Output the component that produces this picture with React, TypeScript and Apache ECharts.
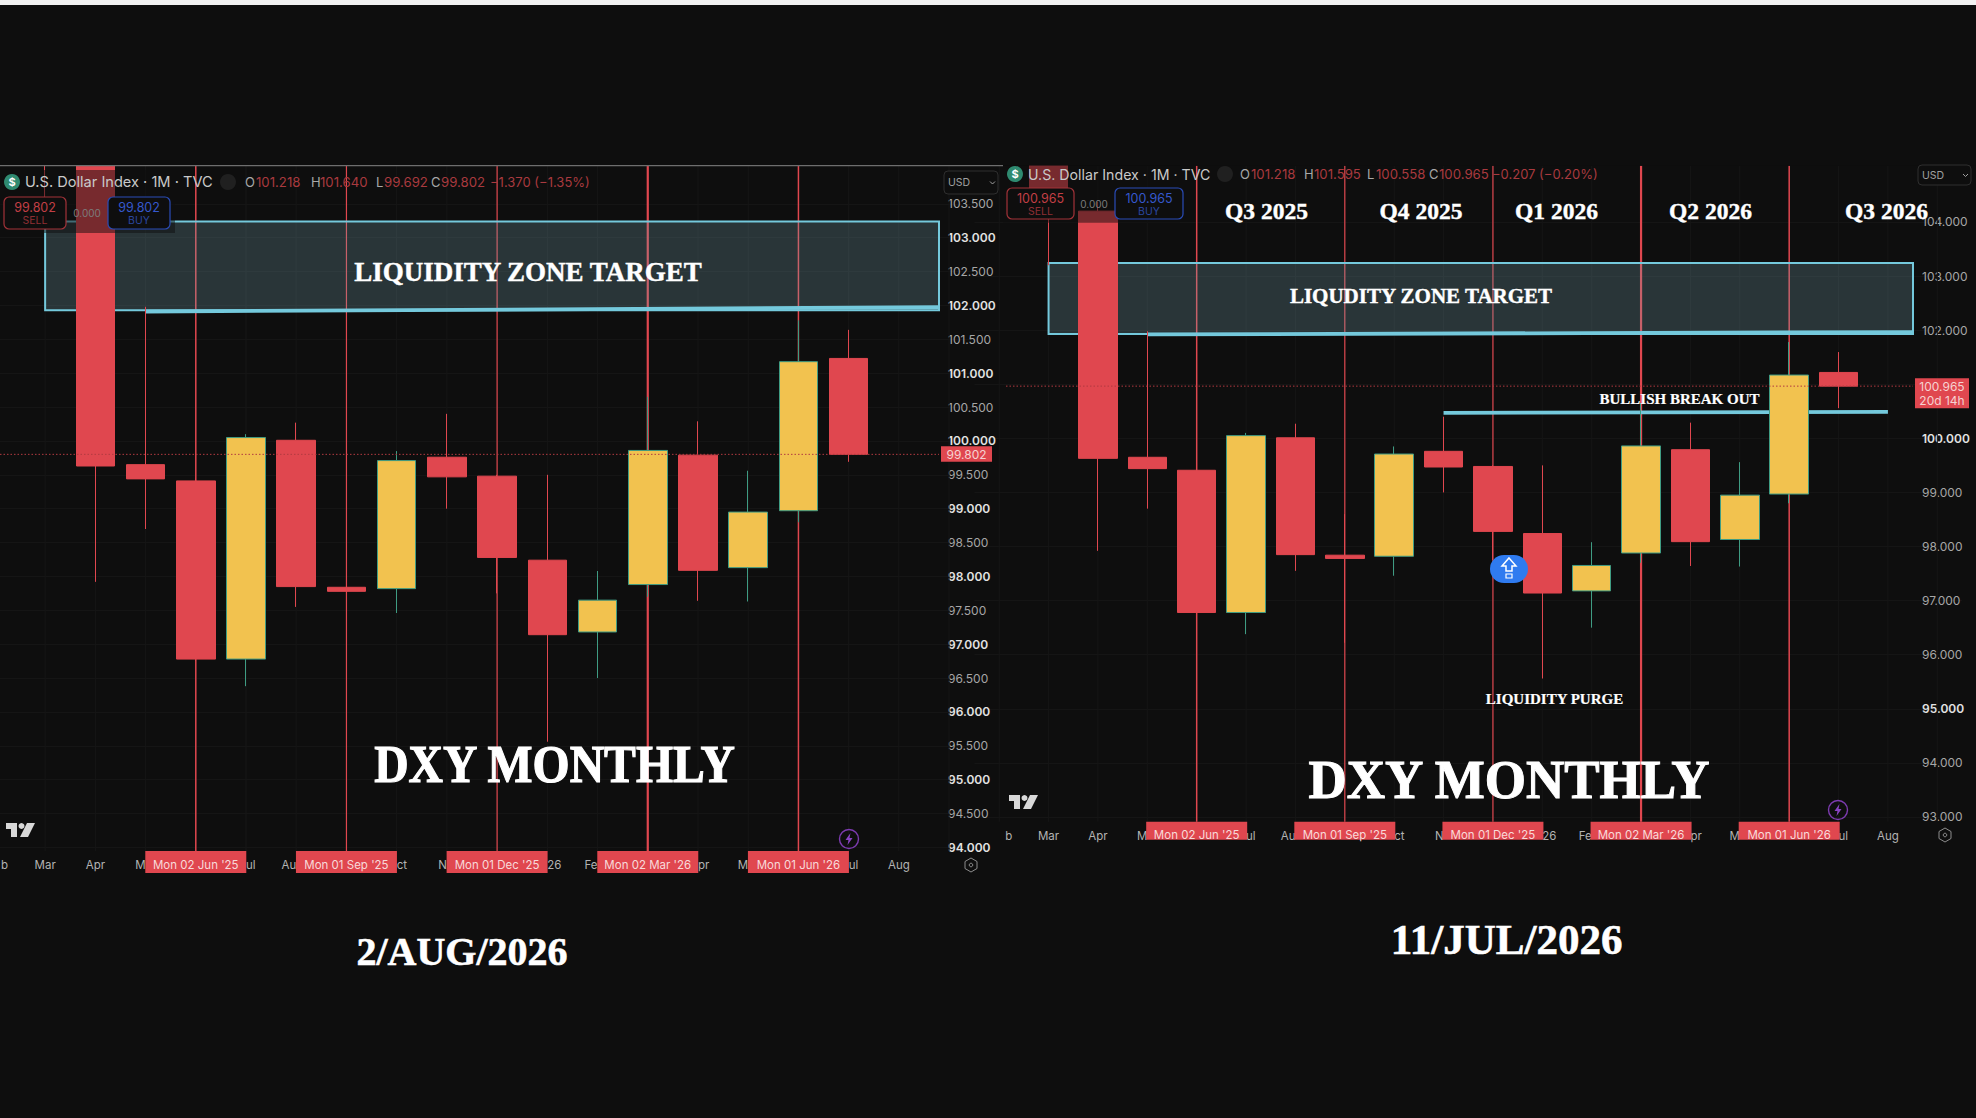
import React, { useEffect, useRef } from "react";
import * as echarts from "echarts";

// Month labels as far as the reference leaves them visible beside the red date boxes.
const leftMonths = ["b","Mar","Apr","M","","ul","Au","","ct","N","","26","Fe","","pr","M","","ul","Aug",""];
const rightMonths = ["b","Mar","Apr","M","","ul","Au","","ct","N","","26","Fe","","pr","M","","ul","Aug",""];
const monthAlign = ["left","center","center","right","center","left","right","center","left","right","center","left","right","center","left","right","center","left","center","center"];

// Monthly candles from Mar '25 to Jun '26: [open, close, low, high]
const sharedCandles = [
  [107.6, 104.2, 103.2, 107.7],
  [104.2, 99.63, 97.92, 104.37],
  [99.65, 99.44, 98.7, 101.98],
  [99.41, 96.78, 96.75, 99.45],
  [96.78, 100.05, 96.38, 100.1],
  [100.01, 97.85, 97.55, 100.27],
  [97.84, 97.78, 96.22, 98.6],
  [97.82, 99.71, 97.46, 99.85],
  [99.76, 99.47, 99.0, 100.4],
  [99.48, 98.28, 97.75, 99.5],
  [98.24, 97.14, 95.56, 99.5],
  [97.18, 97.65, 96.5, 98.08],
  [97.88, 99.86, 97.7, 100.65],
  [99.79, 98.09, 97.64, 100.29],
  [98.13, 98.95, 97.63, 99.56],
  [98.97, 101.17, 98.8, 101.78],
];
const leftJuly = [101.218, 99.802, 99.692, 101.64];
const rightJuly = [101.218, 100.965, 100.558, 101.595];

const leftTicks = [94,94.5,95,95.5,96,96.5,97,97.5,98,98.5,99,99.5,100,100.5,101,101.5,102,102.5,103,103.5];
const rightTicks = [93,94,95,96,97,98,99,100,101,102,103,104];

const markerMonths = [4, 7, 10, 13, 16];
const markerTexts = ["Mon 02 Jun '25", "Mon 01 Sep '25", "Mon 01 Dec '25", "Mon 02 Mar '26", "Mon 01 Jun '26"];
const markerWidths = [1.5, 1.2, 1.2, 2.2, 1.5];

const zone = [1, 103.24, 101.93];
const leftZoneLine = [[3, 101.91], [19, 101.975]];
const rightZoneLine = [[3, 101.92], [19, 101.965]];
const breakoutLine = [[9, 100.47], [18, 100.49]];

const leftNotes = ["LIQUIDITY ZONE TARGET", "DXY MONTHLY", "2/AUG/2026"];
const rightNotes = ["LIQUDITY ZONE TARGET", "BULLISH BREAK OUT", "LIQUIDITY PURGE", "DXY MONTHLY", "11/JUL/2026"];
const quarters = ["Q3 2025", "Q4 2025", "Q1 2026", "Q2 2026", "Q3 2026"];

const title = "U.S. Dollar Index · 1M · TVC";
const leftOhlc = ["101.218", "101.640", "99.692", "99.802", "−1.370 (−1.35%)"];
const rightOhlc = ["101.218", "101.595", "100.558", "100.965", "−0.207 (−0.20%)"];

const BG = "#0e0e0e";
const RED = "#e0474f";
const GOLD = "#f2c24f";
const TEAL = "#3f9c83";
const CYAN = "#74c9dc";
const SANS = "Inter, 'Noto Sans', sans-serif";
const SERIF = "'Liberation Serif', serif";
const Z = 100;

const candlesOf = (last: number[]) => ["-", ...sharedCandles, last, "-", "-"].map((c) => (c === "-" ? ["-", "-", "-", "-"] : c));

function pane(i: number, o: any) {
  const { left, top, width, height, min, max, ticks, major, months, last, edge, lines, priceValue, priceTexts, boxH, barW } = o;
  const grid = { left, top, width, height, outerBoundsMode: "none", containLabel: false };
  const xAxis = {
    type: "category", gridIndex: i, boundaryGap: true,
    data: months.map((m: string, k: number) => ({
      value: m,
      textStyle: k === 0 ? { align: monthAlign[k], padding: [0, 0, 0, 6] } : { align: monthAlign[k] },
    })),
    axisLine: { show: false }, axisTick: { show: false }, splitLine: { show: false },
    axisLabel: { interval: 0, color: "#b3b3b3", fontFamily: SANS, fontSize: 11.5, margin: o.xMargin, hideOverlap: false },
  };
  const yAxis = {
    type: "value", gridIndex: i, position: "right", offset: -edge, min, max, scale: true,
    axisLine: { show: false }, axisTick: { show: false, customValues: ticks },
    splitLine: { show: true, lineStyle: { color: "#151515", width: 1 } },
    axisLabel: {
      customValues: ticks, margin: 9,
      formatter: (v: number) => (v % major === 0 ? `{b|${v.toFixed(3)}}` : `{g|${v.toFixed(3)}}`),
      rich: {
        b: { color: "#e2e2e2", fontFamily: SANS, fontSize: 12, fontWeight: 600 },
        g: { color: "#a6a6a6", fontFamily: SANS, fontSize: 12 },
      },
    },
  };
  const base = { xAxisIndex: i, yAxisIndex: i, coordinateSystem: "cartesian2d", silent: true };
  const series: any[] = [
    {
      ...base, type: "custom", name: `months${i}`, z: 1, data: months.map((_: string, k: number) => [k, min]), encode: { x: 0, y: 1 },
      renderItem: (_p: any, api: any) => {
        const x = api.coord([api.value(0), min])[0];
        return { type: "line", shape: { x1: x, y1: top, x2: x, y2: top + height }, style: { stroke: "#161616", lineWidth: 1 } };
      },
    },
    {
      ...base, type: "custom", name: `markers${i}`, z: 2, data: markerMonths.map((m, k) => [m, min, k]), encode: { x: 0, y: 1 },
      renderItem: (_p: any, api: any) => {
        const x = api.coord([api.value(0), min])[0];
        return { type: "line", shape: { x1: x, y1: top, x2: x, y2: top + height }, style: { stroke: RED, lineWidth: markerWidths[api.value(2)] } };
      },
    },
    {
      ...base, type: "custom", name: `zone${i}`, z: 3, data: [zone], encode: { x: 0, y: [1, 2] },
      renderItem: (p: any, api: any) => {
        const a = api.coord([api.value(0), api.value(1)]);
        const b = api.coord([api.value(0), api.value(2)]);
        const r = p.coordSys.x + p.coordSys.width - edge;
        return { type: "rect", shape: { x: a[0], y: a[1], width: r - a[0], height: b[1] - a[1] }, style: { fill: "rgba(125,170,185,0.25)", stroke: CYAN, lineWidth: 2 } };
      },
    },
    ...lines.map((ln: number[][], k: number) => ({
      ...base, type: "custom", name: `line${i}_${k}`, z: 3, data: ln, encode: { x: 0, y: 1 },
      renderItem: (p: any, api: any) => {
        if (p.dataIndex !== 0) return null;
        const a = api.coord(ln[0]);
        const b = api.coord(ln[1]);
        const end = ln[1][0] === months.length - 1 ? p.coordSys.x + p.coordSys.width - edge : b[0];
        return { type: "line", shape: { x1: a[0], y1: a[1], x2: end, y2: b[1] }, style: { stroke: CYAN, lineWidth: 3.8 } };
      },
    })),
    {
      ...base, type: "candlestick", name: `DXY${i}`, z: 4, barWidth: barW, data: candlesOf(last),
      itemStyle: { color: GOLD, color0: RED, borderColor: TEAL, borderColor0: RED, borderWidth: 1 },
    },
    {
      ...base, type: "custom", name: `price${i}`, z: 5, data: [[0, priceValue]], encode: { x: 0, y: 1 },
      renderItem: (p: any, api: any) => {
        const y = api.coord([0, api.value(1)])[1];
        const r = p.coordSys.x + p.coordSys.width - edge;
        const h = priceTexts.length * 14.5 + 1;
        const tagW = o.tagW;
        return {
          type: "group",
          children: [
            { type: "line", shape: { x1: Math.max(p.coordSys.x, o.priceFrom), y1: y, x2: r, y2: y }, style: { stroke: "#b23a40", lineWidth: 1, lineDash: [1.5, 2] } },
            { type: "rect", shape: { x: r + 2, y: y - 8, width: tagW, height: h }, style: { fill: RED } },
            ...priceTexts.map((t: string, k: number) => ({
              type: "text", style: { text: t, x: r + 2 + tagW / 2, y: y + k * 14.5, align: "center", verticalAlign: "middle", fill: "#f6d2d2", fontFamily: SANS, fontSize: 12 },
            })),
          ],
        };
      },
    },
    {
      ...base, type: "custom", name: `labels${i}`, z: 6, data: markerMonths.map((m, k) => [m, min, k]), encode: { x: 0, y: 1 },
      renderItem: (_p: any, api: any) => {
        const x = api.coord([api.value(0), min])[0];
        const y = top + height;
        return {
          type: "group",
          children: [
            { type: "rect", shape: { x: x - 50.5, y, width: 101, height: boxH }, style: { fill: RED } },
            { type: "text", style: { text: markerTexts[api.value(2)], x, y: y + o.boxTextY, align: "center", verticalAlign: "middle", fill: "#f8dada", fontFamily: SANS, fontSize: 11.5 } },
          ],
        };
      },
    },
  ];
  return { grid, xAxis, yAxis, series };
}

const note = (text: string, cx: number, cy: number, size: number, scaleY = 1, heavy = 0.4) => ({
  type: "text", z: Z, x: cx, y: cy, scaleY, silent: true,
  style: { text, align: "center", verticalAlign: "middle", fill: "#ffffff", stroke: "#ffffff", lineWidth: heavy, fontFamily: SERIF, fontWeight: "bold", fontSize: size },
});
const rect = (x: number, y: number, width: number, height: number, style: any, r = 0) => ({
  type: "rect", z: Z, silent: true, shape: { x, y, width, height, r }, style,
});
const label = (text: string, x: number, y: number, fill: string, fontSize: number, align = "left", fontWeight: any = "normal") => ({
  type: "text", z: Z + 1, silent: true, x, y,
  style: { text, align, verticalAlign: "middle", fill, fontFamily: SANS, fontSize, fontWeight },
});
const poly = (pts: number[][], style: any, z = Z + 1) => ({ type: "polygon", z, silent: true, shape: { points: pts }, style });
const move = (pts: number[][], dx: number, dy: number) => pts.map(([a, b]) => [a + dx, b + dy]);

function tradeHeader(o: any) {
  const { x0, y, ohlc, pos, sell, buy, boxY, boxH, zeroX, price, overlay, titleSize } = o;
  const ohlcColor = "#a93a3f";
  const words = ["O", "H", "L", "C"];
  return [
    rect(overlay[0], overlay[1], overlay[2], overlay[3], { fill: "rgba(14,14,14,0.5)" }),
    { type: "circle", z: Z + 1, silent: true, shape: { cx: x0, cy: y, r: 8 }, style: { fill: "#2f8a70" } },
    label("$", x0, y, "#ffffff", 11, "center", "bold"),
    label(title, x0 + 13, y, "#c9c9c9", titleSize),
    { type: "circle", z: Z + 1, silent: true, shape: { cx: o.dashX, cy: y, r: 8 }, style: { fill: "#202020" } },
    rect(o.dashX - 4, y - 1, 8, 2, { fill: "#777" }),
    ...words.map((w, k) => label(w, pos[k][0], y, "#a8a8a8", 13)),
    ...ohlc.slice(0, 4).map((t: string, k: number) => label(t, pos[k][1], y, ohlcColor, 13.2)),
    label(ohlc[4], pos[4], y, ohlcColor, 13),
    rect(sell[0], boxY, sell[1], boxH, { fill: BG, stroke: "#a33339", lineWidth: 1.2 }, 5),
    label(price, sell[0] + sell[1] / 2, boxY + 10, "#c23f45", 12.5, "center"),
    label("SELL", sell[0] + sell[1] / 2, boxY + 23, "#8e2f34", 10.5, "center"),
    label("0.000", zeroX, boxY + 15.5, "#7c7c7c", 10, "center"),
    rect(buy[0], boxY, buy[1], boxH, { fill: BG, stroke: "#2a4cb8", lineWidth: 1.2 }, 5),
    label(price, buy[0] + buy[1] / 2, boxY + 10, "#3558cc", 12.5, "center"),
    label("BUY", buy[0] + buy[1] / 2, boxY + 23, "#2a469f", 10.5, "center"),
  ];
}

const usdBox = (x: number, y: number, w: number, h: number) => [
  rect(x, y, w, h, { fill: BG, stroke: "#2e2e2e", lineWidth: 1 }, 4),
  label("USD", x + 4, y + h / 2, "#a0a0a0", 10.5),
  { type: "polyline", z: Z + 1, silent: true, shape: { points: [[x + w - 8, y + h / 2 - 1], [x + w - 5.5, y + h / 2 + 1.5], [x + w - 3, y + h / 2 - 1]] }, style: { stroke: "#a0a0a0", fill: "none", lineWidth: 1 } },
];

const tvLogo = (x: number, y: number) => [
  poly(move([[0, 0], [11, 0], [11, 14], [5, 14], [5, 6], [0, 6]], x, y), { fill: "#d8d8d8" }),
  { type: "circle", z: Z + 1, silent: true, shape: { cx: x + 15.5, cy: y + 3, r: 3 }, style: { fill: "#d8d8d8" } },
  poly(move([[21, 0], [29, 0], [22, 14], [14, 14]], x, y), { fill: "#d8d8d8" }),
];

const bolt = (cx: number, cy: number) => [
  { type: "ellipse", z: Z + 1, silent: true, shape: { cx, cy, rx: 9.5, ry: 9.5 }, style: { fill: "none", stroke: "#7d3bb0", lineWidth: 1.4 } },
  poly(move([[1.5, -6], [-3.5, 1], [-0.5, 1], [-1.5, 6], [3.5, -1], [0.5, -1]], cx, cy), { fill: "#8a44c4" }),
];

const gear = (cx: number, cy: number) => [
  poly(move([[0, -7], [6, -3.5], [6, 3.5], [0, 7], [-6, 3.5], [-6, -3.5]], cx, cy), { fill: "none", stroke: "#8c8c8c", lineWidth: 1 }),
  { type: "circle", z: Z + 1, silent: true, shape: { cx, cy, r: 1.8 }, style: { fill: "none", stroke: "#8c8c8c", lineWidth: 1 } },
];

function buildOption() {
  const leftPane = pane(0, {
    left: -30.2, top: 165.7, width: 1004.4, height: 685.3, min: 93.947, max: 104.063, ticks: leftTicks, major: 1,
    months: leftMonths, last: leftJuly, edge: 35.2, lines: [leftZoneLine], priceValue: 99.802, priceTexts: ["99.802"],
    boxH: 22, boxTextY: 14, xMargin: 8, barW: 39, tagW: 51, priceFrom: 0,
  });
  const rightPane = pane(1, {
    left: 974.5, top: 165.7, width: 987.5, height: 656, min: 92.913, max: 105.04, ticks: rightTicks, major: 5,
    months: rightMonths, last: rightJuly, edge: 49, lines: [rightZoneLine, breakoutLine], priceValue: 100.965, priceTexts: ["100.965", "20d 14h"],
    boxH: 18, boxTextY: 13.5, xMargin: 8, barW: 39, tagW: 54, priceFrom: 1006,
  });
  const graphic = [
    rect(0, 5, 1976, 160.7, { fill: BG }),
    rect(0, 0, 1976, 5, { fill: "#f1f1f1" }),
    rect(0, 165, 1003, 1.2, { fill: "#6e6e6e" }),
    ...tradeHeader({
      x0: 12, y: 182, ohlc: leftOhlc, dashX: 228, price: "99.802", boxY: 197, boxH: 32, sell: [4, 62], buy: [108, 62], zeroX: 87,
      overlay: [0, 170, 175, 63], titleSize: 14.6,
      pos: [[245, 256], [311, 320], [376, 384], [431, 441], 490],
    }),
    ...tradeHeader({
      x0: 1015, y: 174, ohlc: rightOhlc, dashX: 1225, price: "100.965", boxY: 188, boxH: 31, sell: [1007, 67], buy: [1115, 68], zeroX: 1094,
      overlay: [1003, 165.7, 177, 57], titleSize: 14.2,
      pos: [[1240, 1251], [1304, 1314], [1367, 1376], [1429, 1439], 1492],
    }),
    ...usdBox(944, 171, 54, 23),
    ...usdBox(1918, 165, 53, 20),
    note(leftNotes[0], 528, 272, 27),
    note(leftNotes[1], 554.5, 764.5, 47.7, 1.12, 1),
    note(leftNotes[2], 462, 951, 40, 1, 0.6),
    ...quarters.map((q, k) => note(q, [1266.5, 1421, 1556.5, 1710.5, 1886.5][k], 211, 23.5)),
    note(rightNotes[0], 1421, 296, 21),
    note(rightNotes[1], 1679.5, 398.5, 15, 1, 0.2),
    note(rightNotes[2], 1554.5, 698.5, 15, 1, 0.2),
    note(rightNotes[3], 1509, 780, 53, 1.05, 1),
    note(rightNotes[4], 1506.5, 939, 43, 1, 0.6),
    ...tvLogo(6, 823),
    ...tvLogo(1009, 795),
    ...bolt(849, 839),
    ...bolt(1838, 810),
    ...gear(971, 865),
    ...gear(1945, 835),
    rect(1490, 555, 38, 28, { fill: "#2f7bf0" }, 14),
    poly(move([[0, -10], [7, -2], [3, -2], [3, 3], [-3, 3], [-3, -2], [-7, -2]], 1509, 568), { fill: "none", stroke: "#ffffff", lineWidth: 1.5 }),
    rect(1506, 574, 6, 4, { fill: "none", stroke: "#ffffff", lineWidth: 1.2 }),
  ];
  return {
    animation: false,
    backgroundColor: BG,
    grid: [leftPane.grid, rightPane.grid],
    xAxis: [leftPane.xAxis, rightPane.xAxis],
    yAxis: [leftPane.yAxis, rightPane.yAxis],
    series: [...leftPane.series, ...rightPane.series],
    graphic: { elements: graphic },
  };
}

export default function App() {
  const ref = useRef<HTMLDivElement>(null);
  useEffect(() => {
    document.body.style.margin = "0";
    const chart = echarts.init(ref.current!, undefined, { renderer: "svg" });
    chart.setOption(buildOption() as any);
    return () => chart.dispose();
  }, []);
  return <div ref={ref} style={{ position: "absolute", left: 0, top: 0, width: 1976, height: 1118 }} />;
}
